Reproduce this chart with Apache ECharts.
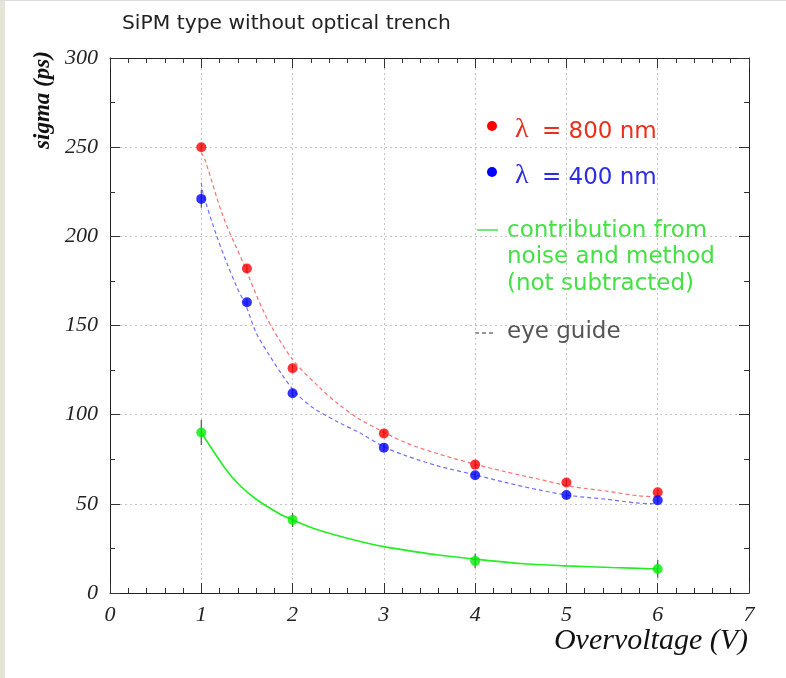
<!DOCTYPE html>
<html>
<head>
<meta charset="utf-8">
<script src="https://cdn.jsdelivr.net/npm/echarts@6/dist/echarts.min.js"></script>
<style>
html,body{margin:0;padding:0;background:#fff;}
#main{width:786px;height:678px;}
</style>
</head>
<body>
<div id="main"></div>
<script>
// ---- data ----
var xTicks = [0, 1, 2, 3, 4, 5, 6, 7];
var yTicks = [0, 50, 100, 150, 200, 250, 300];
var pointX = [1, 1.5, 2, 3, 4, 5, 6];
var red800 = [250, 182, 126, 89.5, 72, 62, 56.5];
var blue400 = [221, 163, 112, 81.5, 66, 55, 52];
var greenX = [1, 2, 4, 6];
var greenY = [90, 41, 18, 13.5];
var greenErr = [7, 4, 4, 5];
var redErr = [2, 2, 2, 2, 2, 2, 2];
var blueErr = [5, 2, 2, 2, 2, 2, 2];
// eye-guide curves
var redGuide = [[1.0,247],[1.04,243],[1.24,211],[1.46,185],[1.71,155],[2.0,131],[2.3,115],[2.5,106],[2.75,97],[3.24,84.3],[3.61,77.8],[3.97,72.6],[4.33,68],[4.7,63.8],[5.06,59.7],[5.43,57.2],[5.79,54.5],[6.0,53.9]];
var blueGuide = [[1.0,230],[1.02,224],[1.17,200],[1.28,185],[1.39,171.5],[1.49,161],[1.6,146],[1.75,133],[1.89,122],[2.04,112],[2.22,104],[2.51,95.5],[2.73,90],[3.0,82],[3.24,77],[3.61,71],[3.97,66.6],[4.33,62],[4.7,57.8],[5.06,54.5],[5.43,52.6],[5.79,50.4],[6.0,50]];
var greenCurve = [[1,90],[1.26,70],[1.41,61],[1.59,53],[1.85,44.6],[2,41],[2.24,36],[2.6,30.7],[3.0,26],[3.6,21.3],[4,19],[4.5,16.5],[5,15.2],[5.5,14.3],[6,13.5]];

var serif = '"Liberation Serif","DejaVu Serif",serif';
var sans = '"DejaVu Sans","Noto Sans",sans-serif';

function pairs(xs, ys){ return xs.map(function(x,i){ return [x, ys[i]]; }); }
function errs(xs, ys, es){ return xs.map(function(x,i){ return [x, ys[i]-es[i], ys[i]+es[i]]; }); }

function errSeries(data, color){
  return {
    type: 'custom', z: 3, silent: true,
    renderItem: function(params, api){
      var p1 = api.coord([api.value(0), api.value(1)]);
      var p2 = api.coord([api.value(0), api.value(2)]);
      return {type:'line', shape:{x1:p1[0], y1:p1[1], x2:p2[0], y2:p2[1]}, style:{stroke:color, lineWidth:1.2}};
    },
    encode: {x:0, y:[1,2]},
    data: data
  };
}

var chart = echarts.init(document.getElementById('main'), null, {renderer:'canvas'});

var axisBase = {
  type: 'value',
  axisLine: {show: true, onZero: false, lineStyle: {color: '#222', width: 1}},
  axisTick: {show: true, inside: true, length: 10, lineStyle: {color: '#333'}},
  minorTick: {show: true, splitNumber: 5, length: 5, lineStyle: {color: '#333'}},
  splitLine: {show: false}
};

var option = {
  backgroundColor: '#ffffff',
  animation: false,
  grid: {left: 110, top: 58, right: 37, bottom: 85},
  xAxis: [
    Object.assign({}, axisBase, {
      min: xTicks[0], max: xTicks[xTicks.length-1], interval: 1, position: 'bottom',
      axisLabel: {fontFamily: serif, fontStyle: 'italic', fontSize: 22, color: '#222', margin: 11},
      splitLine: {show: true, lineStyle: {color: '#c4c4c4', type: [2, 3], width: 1}}
    }),
    Object.assign({}, axisBase, {
      min: xTicks[0], max: xTicks[xTicks.length-1], interval: 1, position: 'top',
      axisLabel: {show: false}
    })
  ],
  yAxis: [
    Object.assign({}, axisBase, {
      min: yTicks[0], max: yTicks[yTicks.length-1], interval: 50, position: 'left',
      minorTick: {show: true, splitNumber: 2, length: 5, lineStyle: {color: '#333'}},
      axisLabel: {fontFamily: serif, fontStyle: 'italic', fontSize: 22, color: '#222', margin: 12},
      splitLine: {show: true, lineStyle: {color: '#c4c4c4', type: [2, 3], width: 1}}
    }),
    Object.assign({}, axisBase, {
      min: yTicks[0], max: yTicks[yTicks.length-1], interval: 50, position: 'right',
      minorTick: {show: true, splitNumber: 2, length: 5, lineStyle: {color: '#333'}},
      axisLabel: {show: false}
    })
  ],
  series: [
    {type:'line', name:'red guide', data: redGuide, smooth: 0.3, showSymbol: false, z: 2,
      lineStyle: {color: '#ff7070', width: 1.2, type: [4, 3]}},
    {type:'line', name:'blue guide', data: blueGuide, smooth: 0.3, showSymbol: false, z: 2,
      lineStyle: {color: '#7070ff', width: 1.2, type: [4, 3]}},
    {type:'line', name:'green curve', data: greenCurve, smooth: 0.3, showSymbol: false, z: 2,
      lineStyle: {color: '#22ee22', width: 1.6}},
    errSeries(errs(greenX, greenY, greenErr), '#555'),
    errSeries(errs(pointX, red800, redErr), '#555'),
    errSeries(errs(pointX, blue400, blueErr), '#555'),
    {type:'scatter', name:'λ = 800 nm', data: pairs(pointX, red800), symbolSize: 10, z: 5,
      itemStyle: {color: '#ff0000'}},
    {type:'scatter', name:'λ = 400 nm', data: pairs(pointX, blue400), symbolSize: 10, z: 5,
      itemStyle: {color: '#0000ff'}},
    {type:'scatter', name:'noise', data: pairs(greenX, greenY), symbolSize: 10, z: 5,
      itemStyle: {color: '#00ee00'}}
  ],
  graphic: [
    {type:'rect', left: 0, top: 0, shape:{width:5, height:678}, style:{fill:'#e6e4d6'}, silent:true},
    {type:'line', shape:{x1:0, y1:0.5, x2:786, y2:0.5}, style:{stroke:'#dddddd', lineWidth:1}, silent:true},
    {type:'text', x: 122, y: 24, style:{text:'SiPM type without optical trench', font:'20.3px ' + sans, fill:'#222', verticalAlign:'middle'}},
    {type:'text', x: 43, y: 100, rotation: Math.PI/2, style:{text:'sigma (ps)', font:'italic bold 23px ' + serif, fill:'#111', align:'center', verticalAlign:'middle'}},
    {type:'text', x: 748, y: 641, style:{text:'Overvoltage (V)', font:'italic 30px ' + serif, fill:'#111', align:'right', verticalAlign:'middle'}},
    {type:'circle', shape:{cx:492, cy:126, r:5}, style:{fill:'#ff0000'}},
    {type:'text', x: 515, y: 130, style:{text:'λ', font:'28px ' + serif, fill:'#e8301c', verticalAlign:'middle'}},
    {type:'text', x: 542, y: 132, style:{text:'= 800 nm', font:'23px ' + sans, fill:'#e8301c', verticalAlign:'middle'}},
    {type:'circle', shape:{cx:492, cy:172, r:5}, style:{fill:'#0000ff'}},
    {type:'text', x: 515, y: 176, style:{text:'λ', font:'28px ' + serif, fill:'#2c2ce6', verticalAlign:'middle'}},
    {type:'text', x: 542, y: 178, style:{text:'= 400 nm', font:'23px ' + sans, fill:'#2c2ce6', verticalAlign:'middle'}},
    {type:'line', shape:{x1:477, y1:230, x2:498, y2:230}, style:{stroke:'#44e044', lineWidth:1.5}},
    {type:'text', x: 507, y: 231, style:{text:'contribution from', font:'23px ' + sans, fill:'#44e044', verticalAlign:'middle'}},
    {type:'text', x: 507, y: 257, style:{text:'noise and method', font:'23px ' + sans, fill:'#44e044', verticalAlign:'middle'}},
    {type:'text', x: 507, y: 284, style:{text:'(not subtracted)', font:'23px ' + sans, fill:'#44e044', verticalAlign:'middle'}},
    {type:'line', shape:{x1:475, y1:333, x2:493, y2:333}, style:{stroke:'#333', lineWidth:1.2, lineDash:[4,3]}},
    {type:'text', x: 507, y: 332, style:{text:'eye guide', font:'23px ' + sans, fill:'#555', verticalAlign:'middle'}}
  ]
};
chart.setOption(option);
</script>
</body>
</html>
